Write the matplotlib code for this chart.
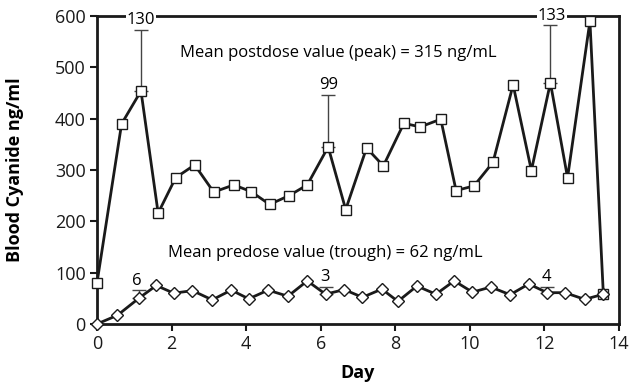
import numpy as np
import matplotlib
matplotlib.use("Agg")
from matplotlib import pyplot as plt

plt.rcParams['font.family'] = ['Open Sans', 'DejaVu Sans']

# postdose (peak) series, squares
peak_day = [0.0, 0.66, 1.18, 1.64, 2.11, 2.62, 3.13, 3.67, 4.13, 4.63, 5.15, 5.64, 6.20, 6.67,
            7.23, 7.68, 8.23, 8.67, 9.22, 9.63, 10.11, 10.62, 11.16, 11.65, 12.16, 12.62, 13.22, 13.58]
peak_val = [80, 390, 454, 216, 285, 310, 257, 271, 258, 233, 250, 271, 345, 223,
            343, 308, 391, 384, 399, 260, 269, 315, 466, 299, 470, 285, 590, 58]

# predose (trough) series, diamonds
trough_day = [0.0, 0.55, 1.12, 1.59, 2.06, 2.56, 3.09, 3.60, 4.07, 4.59, 5.12, 5.64, 6.13, 6.63,
              7.12, 7.64, 8.07, 8.58, 9.09, 9.58, 10.07, 10.56, 11.08, 11.58, 12.07, 12.55, 13.08, 13.58]
trough_val = [0, 17, 50, 75, 60, 65, 47, 66, 49, 66, 54, 84, 58, 67,
              52, 68, 44, 74, 58, 84, 62, 72, 57, 78, 61, 61, 48, 58]

# error bars: (index into series, bar height, label)
peak_err = [(2, 118, '130'), (12, 101, '99'), (24, 112, '133')]
trough_err = [(2, 16, '6'), (12, 14, '3'), (24, 12, '4')]

fig = plt.figure(figsize=(6.31, 3.91), dpi=100)
ax = fig.add_axes([0.1537, 0.1714, 0.8273, 0.7876])

for idx, e, lab in peak_err:
    ax.errorbar(peak_day[idx], peak_val[idx], yerr=[[0], [e]], color='#444444',
                lw=1.0, capsize=5, capthick=1.0, zorder=1)
for idx, e, lab in trough_err:
    ax.errorbar(trough_day[idx], trough_val[idx], yerr=[[0], [e]], color='#444444',
                lw=1.0, capsize=5, capthick=1.0, zorder=1)

ax.plot(peak_day, peak_val, color='#1a1a1a', lw=2.0, marker='s', ms=7,
        mfc='white', mec='#1a1a1a', mew=1.0, clip_on=False, zorder=4)
ax.plot(trough_day, trough_val, color='#1a1a1a', lw=2.0, marker='D', ms=6.5,
        mfc='white', mec='#1a1a1a', mew=1.0, clip_on=False, zorder=5)

# error labels
ax.text(1.18, 592, '130', ha='center', va='center', fontsize=12,
        bbox=dict(fc='white', ec='none', pad=0.5), zorder=6, clip_on=False)
ax.text(6.22, 465, '99', ha='center', va='center', fontsize=12, zorder=6)
ax.text(12.2, 601, '133', ha='center', va='center', fontsize=12,
        bbox=dict(fc='white', ec='none', pad=0.5), zorder=6, clip_on=False)
ax.text(1.08, 84, '6', ha='center', va='center', fontsize=12, zorder=6)
ax.text(6.12, 91, '3', ha='center', va='center', fontsize=12, zorder=6)
ax.text(12.05, 92, '4', ha='center', va='center', fontsize=12, zorder=6)

ax.text(2.23, 528, 'Mean postdose value (peak) = 315 ng/mL', ha='left', va='center', fontsize=12)
ax.text(1.91, 138, 'Mean predose value (trough) = 62 ng/mL', ha='left', va='center', fontsize=12)

ax.set_xlim(0, 14)
ax.set_ylim(0, 600)
ax.set_xticks(np.arange(0, 15, 2))
ax.set_yticks(np.arange(0, 601, 100))
ax.tick_params(direction='out', length=5, width=1.5, labelsize=13, colors='#1a1a1a', pad=3)
for sp in ax.spines.values():
    sp.set_linewidth(2.0)
    sp.set_color('#1a1a1a')

ax.set_xlabel('Day', fontsize=13, fontweight='bold', labelpad=8)
ax.set_ylabel('Blood Cyanide ng/ml', fontsize=13, fontweight='bold', labelpad=22)

fig.savefig('out.png', dpi=100)
